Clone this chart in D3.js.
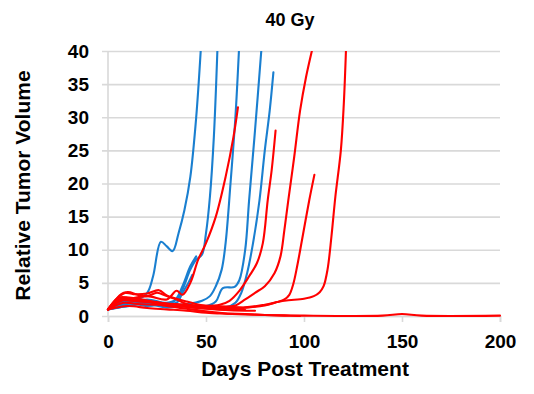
<!DOCTYPE html>
<html>
<head>
<meta charset="utf-8">
<script src="https://cdn.jsdelivr.net/npm/d3@7"></script>
<style>
  body { margin: 0; background: #fff; }
  svg { font-family: "Liberation Sans", Arial, sans-serif; }
</style>
</head>
<body>
<div id="chart"></div>
<script>
// [day, relative volume] per tumour
const blue1 = [[0,1],[5,2],[10,2.3],[15,2.5],[20,3.5],[23,6],[27,11.2],[30,10.5],[33,9.8],[36,12.5],[39,16],[42,21],[45,30],[47.3,40]];
const blue2 = [[0,1],[5,1.8],[10,2],[20,2.5],[30,2],[35,2.5],[38,4],[42,7],[45,8.5],[48,9.3],[50,12.5],[52,18],[54,27],[55.8,40]];
const blue3 = [[0,1],[5,1.6],[10,2.2],[20,2],[30,1.6],[40,1.8],[48,2.3],[52,3],[55,4.5],[58,7],[60,11],[62.5,20],[65,30],[66.8,40]];
const blue4 = [[0,1],[5,1.4],[10,2],[20,1.5],[30,1.8],[40,1.5],[50,1.5],[55,2.2],[58.6,4.2],[64.6,4.4],[67,5.4],[70,10],[72,17.5],[75,28],[78.2,40]];
const blue5 = [[0,1],[10,1.5],[20,1.8],[30,1.3],[40,1.5],[50,1.2],[60,1.3],[65,2],[68,3.5],[71,6.5],[74,11],[77.3,17.5],[80,25],[82.5,31],[84.4,36.8]];
const blue6 = [[0,1],[5,1.5],[10,1.8],[20,2],[30,1.8],[35,2],[38,3.5],[41,5],[43,6.2]];
const blue7 = [[0,1],[6,1.3],[12,1.6],[20,2.2],[28,1.7],[34,2.3],[38,4.5],[42,7.5],[45,9]];

const red1 = [[0,1],[5,2.2],[10,2.5],[20,3],[30,2.5],[35,3.8],[38,3.2],[42,5],[46,8.5],[50,11],[55,15],[60,21],[64,27],[66.3,31.5]];
const red2 = [[0,1],[6,2.8],[12,2.6],[20,2.2],[30,1.8],[40,1.6],[50,1.5],[57,1.7],[62,2.3],[67,3.8],[72,6],[76,8],[79,11],[81.5,17.5],[83.5,22],[85.5,28]];
const red3 = [[0,1],[8,2.4],[15,2.2],[25,2],[35,1.7],[45,1.5],[55,1.4],[65,1.6],[70,2.5],[75,3.5],[80,4.5],[85,6.5],[88,9],[90,13],[92,17.5],[95,24],[98,31],[101,36],[104,40]];
const red4 = [[0,1],[8,2],[15,1.8],[25,1.7],[35,1.5],[45,1.3],[55,1.2],[65,1.2],[72,1.3],[80,1.6],[86,2.1],[90,2.5],[92.5,3.2],[94.5,4.8],[96.5,7.5],[99,11.5],[102.7,17.5],[105.3,21.3]];
const red5 = [[0,1],[7,2.6],[15,2.4],[25,2],[35,1.8],[45,1.6],[55,1.5],[62,1.4],[70,1.3],[80,1.7],[90,2.3],[100,2.6],[105,3],[108,3.6],[110,4.5],[112,7],[114,12],[116,18],[118.8,25],[120.3,32],[121.4,40]];
const red6 = [[0,1],[10,1.5],[20,1.2],[30,1],[40,0.8],[50,0.5],[60,0.35],[70,0.25],[80,0.15],[90,0.1],[100,0.05],[140,0.05],[150,0.3],[160,0.05],[200,0.05]];
const red7 = [[0,1],[6,2.5],[12,2.3],[20,2.2],[30,1.5],[40,1.1],[50,0.7],[60,0.4],[70,0.3],[80,0.15],[90,0.05],[98,0]];
const red8 = [[0,1],[5,2.8],[10,3.6],[15,3.2],[20,3],[25,3.5],[30,3],[35,2.5],[40,1.8],[50,1.2],[60,0.9],[70,0.8],[75,0.8]];
const red9 = [[0,1],[4,2.5],[8,3.5],[13,3.3],[20,3.4],[26,3.9],[30,3.1],[40,2.2],[48,1.6],[55,1.3],[60,1.2]];
const red10 = [[0,1],[4,2],[8,2.8],[15,2.6],[25,2.1],[35,1.6],[45,1.2],[55,1],[65,0.9],[70,0.9]];

const blueSeries = [blue1, blue2, blue3, blue4, blue5, blue6, blue7];
const redSeries = [red1, red2, red3, red4, red5, red6, red7, red8, red9, red10];

const xTicks = [0, 50, 100, 150, 200];
const yTicks = [0, 5, 10, 15, 20, 25, 30, 35, 40];

const width = 534;
const height = 394;
const margin = ({ top: 51, right: 34, bottom: 78, left: 108 });

const svg = d3.select("#chart")
    .append("svg")
    .attr("width", width)
    .attr("height", height);

const x = d3.scaleLinear()
    .domain([0, 200])
    .range([margin.left, width - margin.right]);

const y = d3.scaleLinear()
    .domain([0, 40])
    .range([height - margin.bottom, margin.top]);

// gridlines (with small stubs left of the axis)
const yAxis = g => g
    .attr("transform", `translate(${margin.left - 6},0)`)
    .call(d3.axisLeft(y).tickValues(yTicks).tickSize(-(x(200) - x(0) + 6)).tickPadding(13))
    .call(g => g.select(".domain").remove())
    .call(g => g.selectAll(".tick line")
        .attr("stroke", "#d9d9d9")
        .attr("stroke-width", 1.6))
    .call(g => g.selectAll(".tick text")
        .attr("fill", "#000")
        .attr("font-size", 19)
        .attr("font-weight", "bold")
        .attr("font-family", "Liberation Sans, Arial, sans-serif"));

const xAxis = g => g
    .attr("transform", `translate(0,${y(0)})`)
    .call(d3.axisBottom(x).tickValues(xTicks).tickSize(6).tickPadding(13))
    .call(g => g.select(".domain")
        .attr("stroke", "#d9d9d9")
        .attr("stroke-width", 1.6))
    .call(g => g.selectAll(".tick line")
        .attr("stroke", "#d9d9d9")
        .attr("stroke-width", 1.6))
    .call(g => g.selectAll(".tick text")
        .attr("fill", "#000")
        .attr("font-size", 19)
        .attr("font-weight", "bold")
        .attr("font-family", "Liberation Sans, Arial, sans-serif"));

svg.append("g").call(yAxis);
svg.append("g").call(xAxis);

// vertical axis line
svg.append("line")
    .attr("x1", x(0)).attr("x2", x(0))
    .attr("y1", y(40)).attr("y2", y(0))
    .attr("stroke", "#d9d9d9")
    .attr("stroke-width", 1.6);

svg.append("clipPath")
    .attr("id", "plot-clip")
    .append("rect")
    .attr("x", x(0) - 2)
    .attr("y", y(40))
    .attr("width", x(200) - x(0) + 4)
    .attr("height", y(0) - y(40) + 4);

const line = d3.line()
    .x(d => x(d[0]))
    .y(d => y(d[1]))
    .curve(d3.curveCatmullRom.alpha(0.5));

const lines = svg.append("g")
    .attr("clip-path", "url(#plot-clip)")
    .attr("fill", "none")
    .attr("stroke-width", 2.1)
    .attr("stroke-linejoin", "round")
    .attr("stroke-linecap", "round");

lines.selectAll(".blue")
    .data(blueSeries)
    .join("path")
    .attr("class", "blue")
    .attr("stroke", "#1a7fd0")
    .attr("d", line);

lines.selectAll(".red")
    .data(redSeries)
    .join("path")
    .attr("class", "red")
    .attr("stroke", "#ff0000")
    .attr("d", line);

// title and axis labels
svg.append("text")
    .attr("x", 290)
    .attr("y", 26)
    .attr("text-anchor", "middle")
    .attr("font-size", 18)
    .attr("font-weight", "bold")
    .text("40 Gy");

svg.append("text")
    .attr("x", 305)
    .attr("y", 376)
    .attr("text-anchor", "middle")
    .attr("font-size", 21)
    .attr("font-weight", "bold")
    .text("Days Post Treatment");

svg.append("text")
    .attr("transform", `translate(30,${(y(0) + y(40)) / 2 + 2}) rotate(-90)`)
    .attr("text-anchor", "middle")
    .attr("font-size", 21)
    .attr("font-weight", "bold")
    .text("Relative Tumor Volume");
</script>
</body>
</html>
